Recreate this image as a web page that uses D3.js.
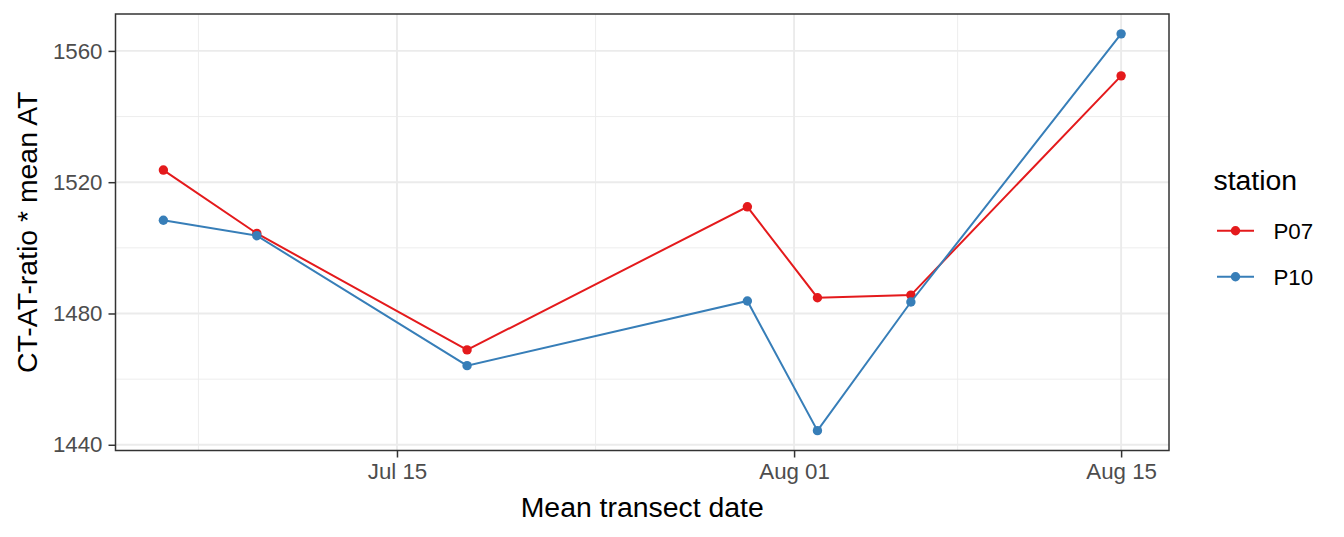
<!DOCTYPE html>
<html>
<head>
<meta charset="utf-8">
<script src="https://cdn.jsdelivr.net/npm/d3@7"></script>
<style>
  html, body { margin: 0; padding: 0; background: #ffffff; }
  svg { display: block; font-family: "Liberation Sans", Arial, sans-serif; }
</style>
</head>
<body>
<svg id="chart" width="1344" height="537"></svg>
<script>
// ---- data ----
const dates = ["2019-07-05", "2019-07-09", "2019-07-18", "2019-07-30", "2019-08-02", "2019-08-06", "2019-08-15"];
const stations = ["P07", "P10"];
const valuesP07 = [1523.7, 1504.4, 1468.9, 1512.5, 1484.8, 1485.6, 1552.4];
const valuesP10 = [1508.4, 1503.7, 1464.1, 1483.8, 1444.3, 1483.5, 1565.2];
const colors = ["#E41A1C", "#377EB8"];
const xTickDates = ["2019-07-15", "2019-08-01", "2019-08-15"];
const xMinorDates = ["2019-07-06T12:00", "2019-07-23T12:00", "2019-08-08T00:00"];
const yTicks = [1440, 1480, 1520, 1560];
const yMinorTicks = [1460, 1500, 1540];
const xTitle = "Mean transect date";
const yTitle = "CT-AT-ratio * mean AT";
const legendTitle = "station";

// ---- setup ----
const parseDay = d3.utcParse("%Y-%m-%d");
const parseDT = d3.utcParse("%Y-%m-%dT%H:%M");
const dateObjs = dates.map(parseDay);
const seriesValues = [valuesP07, valuesP10];
const series = stations.map((s, i) => ({
  name: s, color: colors[i],
  points: dateObjs.map((d, j) => ({ date: d, value: seriesValues[i][j] }))
}));

const panel = { left: 115.5, right: 1169, top: 14, bottom: 450.5 };
const titleSize = 28.4, tickSize = 22.3;

const xExt = d3.extent(dateObjs);
const xPad = (xExt[1] - xExt[0]) * 0.05;
const x = d3.scaleUtc()
  .domain([new Date(+xExt[0] - xPad), new Date(+xExt[1] + xPad)])
  .range([panel.left, panel.right]);

const allVals = valuesP07.concat(valuesP10);
const yExt = d3.extent(allVals);
const yPad = (yExt[1] - yExt[0]) * 0.05;
const y = d3.scaleLinear()
  .domain([yExt[0] - yPad, yExt[1] + yPad])
  .range([panel.bottom, panel.top]);

const svg = d3.select("#chart");
svg.append("rect").attr("width", 1344).attr("height", 537).attr("fill", "#ffffff");

// grid
const grid = svg.append("g");
grid.selectAll("line.ymin").data(yMinorTicks).join("line")
  .attr("x1", panel.left).attr("x2", panel.right)
  .attr("y1", d => y(d)).attr("y2", d => y(d))
  .attr("stroke", "#EBEBEB").attr("stroke-width", 0.9);
grid.selectAll("line.xmin").data(xMinorDates.map(parseDT)).join("line")
  .attr("y1", panel.top).attr("y2", panel.bottom)
  .attr("x1", d => x(d)).attr("x2", d => x(d))
  .attr("stroke", "#EBEBEB").attr("stroke-width", 0.9);
grid.selectAll("line.ymaj").data(yTicks).join("line")
  .attr("x1", panel.left).attr("x2", panel.right)
  .attr("y1", d => y(d)).attr("y2", d => y(d))
  .attr("stroke", "#EBEBEB").attr("stroke-width", 1.9);
grid.selectAll("line.xmaj").data(xTickDates.map(parseDay)).join("line")
  .attr("y1", panel.top).attr("y2", panel.bottom)
  .attr("x1", d => x(d)).attr("x2", d => x(d))
  .attr("stroke", "#EBEBEB").attr("stroke-width", 1.9);

// series
const line = d3.line().x(d => x(d.date)).y(d => y(d.value));
const gS = svg.append("g");
series.forEach(s => {
  gS.append("path").datum(s.points)
    .attr("d", line).attr("fill", "none")
    .attr("stroke", s.color).attr("stroke-width", 2);
  gS.selectAll(null).data(s.points).join("circle")
    .attr("cx", d => x(d.date)).attr("cy", d => y(d.value))
    .attr("r", 4.7).attr("fill", s.color);
});

// panel border
svg.append("rect")
  .attr("x", panel.left).attr("y", panel.top)
  .attr("width", panel.right - panel.left).attr("height", panel.bottom - panel.top)
  .attr("fill", "none").attr("stroke", "#333333").attr("stroke-width", 1.5);

// axes
const xAxis = d3.axisBottom(x)
  .tickValues(xTickDates.map(parseDay))
  .tickFormat(d3.utcFormat("%b %d"))
  .tickSize(7).tickPadding(6);
const gx = svg.append("g").attr("transform", `translate(0,${panel.bottom})`).call(xAxis);
gx.select(".domain").remove();
gx.selectAll(".tick line").attr("stroke", "#333333").attr("stroke-width", 1.5);
gx.selectAll(".tick text").attr("fill", "#4D4D4D").attr("font-size", tickSize)
  .attr("font-family", "Liberation Sans, Arial, sans-serif");

const yAxis = d3.axisLeft(y).tickValues(yTicks).tickFormat(d3.format("d"))
  .tickSize(7).tickPadding(6);
const gy = svg.append("g").attr("transform", `translate(${panel.left},0)`).call(yAxis);
gy.select(".domain").remove();
gy.selectAll(".tick line").attr("stroke", "#333333").attr("stroke-width", 1.5);
gy.selectAll(".tick text").attr("fill", "#4D4D4D").attr("font-size", tickSize)
  .attr("font-family", "Liberation Sans, Arial, sans-serif");

// titles
svg.append("text").attr("x", (panel.left + panel.right) / 2).attr("y", 516.5)
  .attr("text-anchor", "middle").attr("font-size", titleSize).attr("fill", "#000")
  .text(xTitle);
svg.append("text")
  .attr("transform", `translate(36.5,${(panel.top + panel.bottom) / 2}) rotate(-90)`)
  .attr("text-anchor", "middle").attr("font-size", titleSize).attr("fill", "#000")
  .text(yTitle);

// legend
const lg = svg.append("g");
lg.append("text").attr("x", 1213.5).attr("y", 190).attr("font-size", titleSize)
  .attr("fill", "#000").text(legendTitle);
const legendY = [230.7, 276.7];
series.forEach((s, i) => {
  const g = lg.append("g");
  g.append("line").attr("x1", 1217).attr("x2", 1254)
    .attr("y1", legendY[i]).attr("y2", legendY[i])
    .attr("stroke", s.color).attr("stroke-width", 2);
  g.append("circle").attr("cx", 1235.5).attr("cy", legendY[i]).attr("r", 4.7)
    .attr("fill", s.color);
  g.append("text").attr("x", 1273.5).attr("y", legendY[i] + 8)
    .attr("font-size", tickSize).attr("fill", "#000").text(s.name);
});
</script>
</body>
</html>
